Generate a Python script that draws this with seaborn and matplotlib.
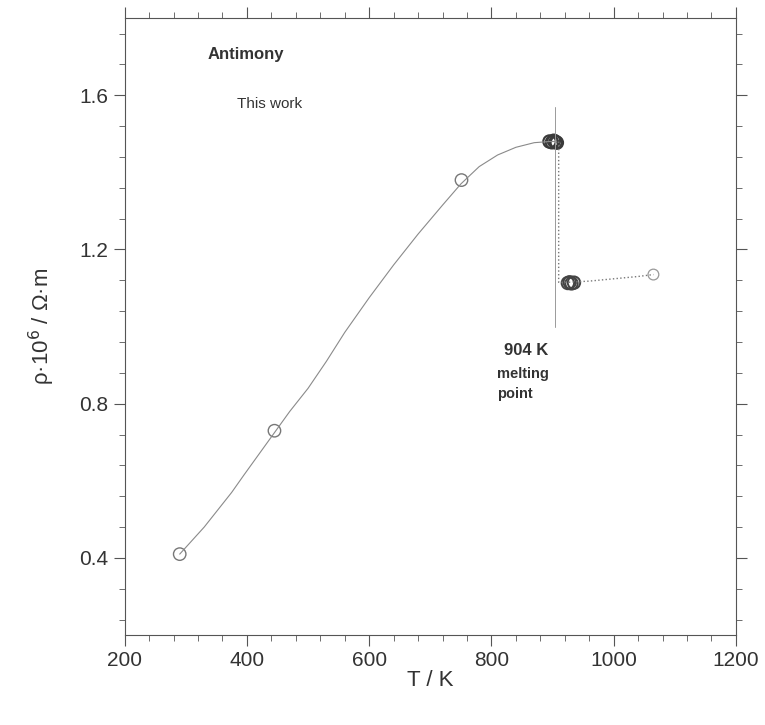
import numpy as np
import pandas as pd
import seaborn as sns
import matplotlib.pyplot as plt
from matplotlib.ticker import MultipleLocator

# smooth fit through the solid-state data
curve_T = [290, 310, 330, 350, 375, 395, 420, 445, 470, 500, 530, 560, 600, 640,
           680, 720, 750, 780, 810, 840, 870, 895, 906]
curve_rho = [0.41, 0.445, 0.48, 0.52, 0.57, 0.615, 0.67, 0.725, 0.78, 0.84, 0.91, 0.985,
             1.075, 1.16, 1.24, 1.315, 1.37, 1.415, 1.445, 1.465, 1.477, 1.48, 1.48]

# measured points, solid
solid_T = [290, 445, 751, 895, 899, 902, 905, 907]
solid_rho = [0.41, 0.73, 1.38, 1.48, 1.478, 1.482, 1.479, 1.477]

# measured points, liquid
liquid_T = [925, 928, 931, 935, 1065]
liquid_rho = [1.113, 1.115, 1.112, 1.114, 1.135]

# dotted liquid trend and the drop at melting
drop_T = [910, 910, 925, 960, 1000, 1040, 1065]
drop_rho = [1.48, 1.115, 1.115, 1.118, 1.124, 1.13, 1.135]

melt_T = 904
melt_rho = [1.0, 1.57]

sns.set_style("ticks")
plt.rcParams['font.family'] = ['Liberation Sans', 'DejaVu Sans']

fig = plt.figure(figsize=(7.65, 7.25), dpi=100)
ax = fig.add_axes([0.163, 0.124, 0.799, 0.851])

sns.lineplot(x=curve_T, y=curve_rho, ax=ax, color="#8a8a8a", linewidth=0.8,
             sort=False, estimator=None)
sns.lineplot(x=drop_T, y=drop_rho, ax=ax, color="#777777", linewidth=1.0,
             linestyle=":", sort=False, estimator=None)
ax.plot([melt_T, melt_T], melt_rho, color="#9a9a9a", linewidth=0.7)

sns.scatterplot(x=solid_T[:3], y=solid_rho[:3], ax=ax, s=80, facecolors="none",
                edgecolor="#777777", linewidth=1.0, marker="o")
sns.scatterplot(x=solid_T[3:], y=solid_rho[3:], ax=ax, s=80, facecolors="none",
                edgecolor="#3a3a3a", linewidth=1.5, marker="o")
sns.scatterplot(x=liquid_T[:4], y=liquid_rho[:4], ax=ax, s=80, facecolors="none",
                edgecolor="#444444", linewidth=1.4, marker="o")
sns.scatterplot(x=liquid_T[4:], y=liquid_rho[4:], ax=ax, s=60, facecolors="none",
                edgecolor="#999999", linewidth=0.9, marker="o")

ax.set_xlim(200, 1200)
ax.set_ylim(0.2, 1.8)
ax.set_xticks([200, 400, 600, 800, 1000, 1200])
ax.set_yticks([0.4, 0.8, 1.2, 1.6])
ax.xaxis.set_minor_locator(MultipleLocator(40))
ax.yaxis.set_minor_locator(MultipleLocator(0.08))
ax.tick_params(which="both", direction="out", top=True, right=True, colors="#555555",
               labelcolor="#333333", labelsize=15)
ax.tick_params(which="major", length=8, width=0.8)
ax.tick_params(which="minor", length=4, width=0.6)
for s in ax.spines.values():
    s.set_color("#555555")
    s.set_linewidth(0.8)

ax.set_xlabel("T / K", fontsize=16, color="#333333", labelpad=0)
ax.set_ylabel(r"ρ·10$^6$ / Ω·m", fontsize=16, color="#333333", labelpad=16)

ax.text(336, 1.705, "Antimony", fontsize=12, fontweight="bold", color="#333333", va="center")
ax.text(383, 1.578, "This work", fontsize=11, color="#333333", va="center")
ax.text(821, 0.939, "904 K", fontsize=12, fontweight="bold", color="#333333", va="center")
ax.text(809, 0.85, "melting\npoint", fontsize=10.5, fontweight="bold", color="#333333",
        va="center", linespacing=1.55)

fig.savefig("out.png", dpi=100)
